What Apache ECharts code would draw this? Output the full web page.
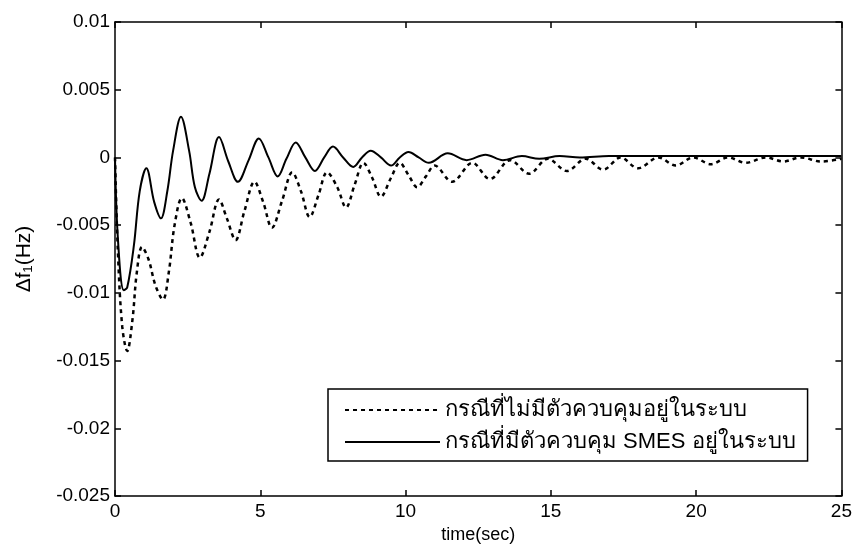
<!DOCTYPE html>
<html>
<head>
<meta charset="utf-8">
<script src="https://cdn.jsdelivr.net/npm/echarts@6/dist/echarts.min.js"></script>
<style>
  html, body { margin: 0; padding: 0; background: #fff; }
  #chart { width: 855px; height: 550px; }
</style>
</head>
<body>
<div id="chart"></div>
<script>
// x ticks / y ticks
var xTicks = [0, 5, 10, 15, 20, 25]
var yTicks = [-0.025, -0.02, -0.015, -0.01, -0.005, 0, 0.005, 0.01]

var legendNames = ['กรณีที่ไม่มีตัวควบคุมอยู่ในระบบ', 'กรณีที่มีตัวควบคุม SMES อยู่ในระบบ']

// case without controller (dashed)
var noCtrlT = [0, 0.1, 0.25, 0.42, 0.6, 0.75, 0.93, 1.15, 1.4, 1.65, 1.85, 2.05, 2.3, 2.6, 2.92, 3.25, 3.58,
  3.85, 4.15, 4.45, 4.8, 5.1, 5.4, 5.75, 6.1, 6.4, 6.7, 7.0, 7.3, 7.65, 7.95, 8.25, 8.55, 8.85, 9.15,
  9.5, 9.8, 10.1, 10.4, 10.7, 11.0, 11.6, 12.3, 12.9, 13.6, 14.25, 14.9, 15.55, 16.2, 16.8, 17.4,
  18.0, 18.7, 19.3, 19.9, 20.5, 21.1, 21.7, 22.4, 23.0, 23.6, 24.3, 25]
var noCtrlV = [0, -0.007, -0.0125, -0.0143, -0.012, -0.0085, -0.0066, -0.0075, -0.0095, -0.0105, -0.0085,
  -0.005, -0.003, -0.0048, -0.0074, -0.0055, -0.0031, -0.0045, -0.0061, -0.004, -0.0018, -0.0033,
  -0.0052, -0.0032, -0.0011, -0.0025, -0.0044, -0.0028, -0.0011, -0.0022, -0.0037, -0.002, -0.0004,
  -0.0015, -0.0029, -0.0015, -0.0004, -0.0013, -0.0022, -0.0014, -0.0006, -0.0018, -0.0004, -0.0016,
  -0.0002, -0.0012, -0.0001, -0.001, -0.0001, -0.0009, 0, -0.0008, 0, -0.0006, 0, -0.0005, 0,
  -0.0004, 0, -0.0003, 0, -0.0003, -0.0001]

// case with SMES controller (solid)
var smesT = [0, 0.1, 0.3, 0.42, 0.65, 0.85, 1.08, 1.35, 1.58, 1.8, 2.0, 2.27, 2.55, 2.75, 2.98, 3.25, 3.58,
  3.9, 4.23, 4.6, 4.95, 5.28, 5.6, 5.9, 6.22, 6.55, 6.88, 7.2, 7.5, 7.85, 8.2, 8.5, 8.8, 9.15, 9.5,
  9.8, 10.1, 10.45, 10.8, 11.45, 12.1, 12.75, 13.35, 14.0, 14.6, 15.3, 16, 17, 18, 19, 20, 21, 22,
  23, 24, 25]
var smesV = [0, -0.006, -0.0098, -0.0096, -0.0065, -0.0025, -0.0008, -0.0033, -0.0045, -0.0025, 0.0005,
  0.003, 0.0005, -0.0022, -0.0032, -0.0012, 0.0015, -0.0003, -0.0018, -0.0002, 0.0014, 0, -0.0014,
  -0.0001, 0.0011, 0, -0.001, 0, 0.0008, 0, -0.0007, 0, 0.0005, 0, -0.0006, 0, 0.0004, 0, -0.0004,
  0.0003, -0.0002, 0.0002, -0.0002, 0.0001, -0.0001, 0.0001, 0, 0.0001, 0.0001, 0.0001, 0.0001,
  0.0001, 0.0001, 0.0001, 0.0001, 0.0001]

function pairs(t, v) {
  return t.map(function (x, i) { return [x, v[i]] })
}

var fontFam = '"Liberation Sans", Arial, "Noto Sans", sans-serif'
var xMin = xTicks[0], xMax = xTicks[xTicks.length - 1]
var yMin = yTicks[0], yMax = yTicks[yTicks.length - 1]

var chart = echarts.init(document.getElementById('chart'))

var frameAxis = {
  axisLine: { show: true, onZero: false, lineStyle: { color: '#000', width: 1.5 } },
  axisTick: { show: true, inside: true, length: 6, lineStyle: { color: '#000', width: 1.5 } },
  splitLine: { show: false }
}

chart.setOption({
  animation: false,
  backgroundColor: '#fff',
  grid: {
    left: 115,
    top: 22,
    right: 13,
    bottom: 54
  },
  legend: {
    orient: 'vertical',
    left: 328,
    top: 389,
    padding: [9, 12, 7, 16],
    itemGap: 8,
    itemWidth: 95,
    itemHeight: 14,
    itemStyle: { opacity: 0 },
    borderColor: '#000',
    borderWidth: 1.5,
    backgroundColor: '#fff',
    textStyle: { fontSize: 22, lineHeight: 24, color: '#000', fontFamily: fontFam },
    data: legendNames
  },
  xAxis: [
    Object.assign({
      type: 'value',
      min: xMin,
      max: xMax,
      interval: 5,
      name: 'time(sec)',
      nameLocation: 'middle',
      nameGap: 28,
      nameTextStyle: { fontSize: 18, color: '#000', fontFamily: fontFam },
      axisLabel: { color: '#000', fontSize: 19, margin: 6, fontFamily: fontFam }
    }, frameAxis),
    Object.assign({
      type: 'value',
      position: 'top',
      min: xMin,
      max: xMax,
      interval: 5,
      axisLabel: { show: false }
    }, frameAxis)
  ],
  yAxis: [
    Object.assign({
      type: 'value',
      min: yMin,
      max: yMax,
      interval: 0.005,
      name: 'Δf₁(Hz)',
      nameLocation: 'middle',
      nameGap: 80,
      nameTextStyle: { fontSize: 21, color: '#000', fontFamily: fontFam },
      axisLabel: {
        color: '#000',
        fontSize: 19,
        margin: 5,
        fontFamily: fontFam,
        formatter: function (v) { return String(+v.toFixed(3)) }
      }
    }, frameAxis),
    Object.assign({
      type: 'value',
      position: 'right',
      min: yMin,
      max: yMax,
      interval: 0.005,
      axisLabel: { show: false }
    }, frameAxis)
  ],
  series: [
    {
      name: legendNames[0],
      type: 'line',
      smooth: 0.35,
      symbol: 'none',
      data: pairs(noCtrlT, noCtrlV),
      lineStyle: { color: '#000', width: 2.5, type: [4, 4] },
      itemStyle: { color: '#000' }
    },
    {
      name: legendNames[1],
      type: 'line',
      smooth: 0.35,
      symbol: 'none',
      data: pairs(smesT, smesV),
      lineStyle: { color: '#000', width: 2 },
      itemStyle: { color: '#000' }
    }
  ]
})
</script>
</body>
</html>
